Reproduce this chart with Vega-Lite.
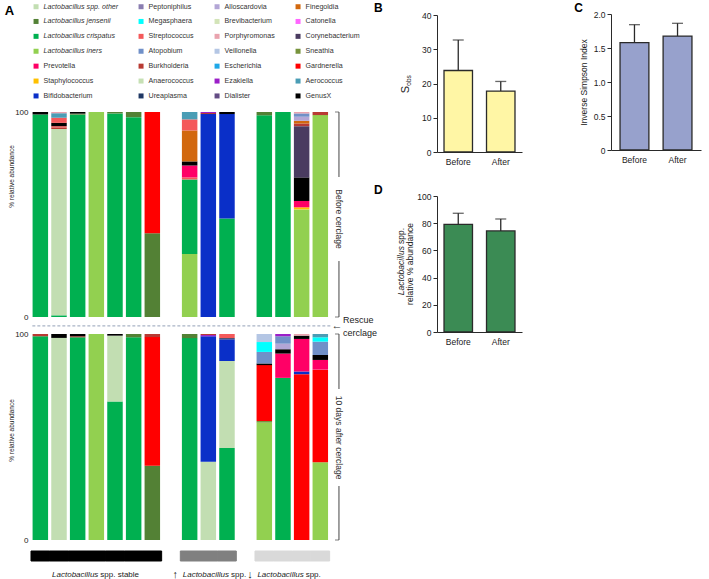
{
  "$schema": "https://vega.github.io/schema/vega-lite/v6.json",
  "width": 709, "height": 579,
  "autosize": {"type": "none"},
  "padding": 0,
  "background": "white",
  "config": {"font": "Liberation Sans", "view": {"stroke": null}, "axis": {"grid": false, "labelColor": "#222", "titleColor": "#222", "titleFontWeight": "normal"}},
  "datasets": {
    "comp": [
      {"time": "Before", "sample": "s1", "taxon": "Lactobacillus crispatus", "pct": 98.8},
      {"time": "Before", "sample": "s1", "taxon": "GenusX", "pct": 1.2},
      {"time": "Before", "sample": "s2", "taxon": "Lactobacillus crispatus", "pct": 0.8},
      {"time": "Before", "sample": "s2", "taxon": "Lactobacillus spp. other", "pct": 90.9},
      {"time": "Before", "sample": "s2", "taxon": "Burkholderia", "pct": 0.8},
      {"time": "Before", "sample": "s2", "taxon": "Streptococcus", "pct": 0.6},
      {"time": "Before", "sample": "s2", "taxon": "GenusX", "pct": 1.6},
      {"time": "Before", "sample": "s2", "taxon": "Streptococcus", "pct": 2.5},
      {"time": "Before", "sample": "s2", "taxon": "Aerococcus", "pct": 2.2},
      {"time": "Before", "sample": "s2", "taxon": "Porphyromonas", "pct": 0.6},
      {"time": "Before", "sample": "s3", "taxon": "Lactobacillus crispatus", "pct": 98.7},
      {"time": "Before", "sample": "s3", "taxon": "Lactobacillus jensenii", "pct": 0.5},
      {"time": "Before", "sample": "s3", "taxon": "GenusX", "pct": 0.8},
      {"time": "Before", "sample": "s4", "taxon": "Lactobacillus iners", "pct": 100},
      {"time": "Before", "sample": "s5", "taxon": "Lactobacillus crispatus", "pct": 99.3},
      {"time": "Before", "sample": "s5", "taxon": "Lactobacillus jensenii", "pct": 0.7},
      {"time": "Before", "sample": "s6", "taxon": "Lactobacillus crispatus", "pct": 97.5},
      {"time": "Before", "sample": "s6", "taxon": "Lactobacillus jensenii", "pct": 2.5},
      {"time": "Before", "sample": "s7", "taxon": "Lactobacillus jensenii", "pct": 40.8},
      {"time": "Before", "sample": "s7", "taxon": "Gardnerella", "pct": 59.2},
      {"time": "Before", "sample": "s8", "taxon": "Lactobacillus iners", "pct": 30.7},
      {"time": "Before", "sample": "s8", "taxon": "Lactobacillus crispatus", "pct": 36.4},
      {"time": "Before", "sample": "s8", "taxon": "Streptococcus", "pct": 1.0},
      {"time": "Before", "sample": "s8", "taxon": "Prevotella", "pct": 5.8},
      {"time": "Before", "sample": "s8", "taxon": "GenusX", "pct": 2.0},
      {"time": "Before", "sample": "s8", "taxon": "Finegoldia", "pct": 15.1},
      {"time": "Before", "sample": "s8", "taxon": "Streptococcus", "pct": 5.4},
      {"time": "Before", "sample": "s8", "taxon": "Aerococcus", "pct": 3.6},
      {"time": "Before", "sample": "s9", "taxon": "Bifidobacterium", "pct": 99.0},
      {"time": "Before", "sample": "s9", "taxon": "Burkholderia", "pct": 0.5},
      {"time": "Before", "sample": "s9", "taxon": "Ezakiella", "pct": 0.5},
      {"time": "Before", "sample": "s10", "taxon": "Lactobacillus crispatus", "pct": 48.0},
      {"time": "Before", "sample": "s10", "taxon": "Bifidobacterium", "pct": 51.0},
      {"time": "Before", "sample": "s10", "taxon": "GenusX", "pct": 1.0},
      {"time": "Before", "sample": "s11", "taxon": "Lactobacillus crispatus", "pct": 98.4},
      {"time": "Before", "sample": "s11", "taxon": "Lactobacillus jensenii", "pct": 1.6},
      {"time": "Before", "sample": "s12", "taxon": "Lactobacillus crispatus", "pct": 100},
      {"time": "Before", "sample": "s13", "taxon": "Lactobacillus iners", "pct": 52.5},
      {"time": "Before", "sample": "s13", "taxon": "Staphylococcus", "pct": 1.0},
      {"time": "Before", "sample": "s13", "taxon": "Prevotella", "pct": 3.1},
      {"time": "Before", "sample": "s13", "taxon": "GenusX", "pct": 11.5},
      {"time": "Before", "sample": "s13", "taxon": "Corynebacterium", "pct": 25.0},
      {"time": "Before", "sample": "s13", "taxon": "Burkholderia", "pct": 1.3},
      {"time": "Before", "sample": "s13", "taxon": "Finegoldia", "pct": 1.3},
      {"time": "Before", "sample": "s13", "taxon": "Alloscardovia", "pct": 2.0},
      {"time": "Before", "sample": "s13", "taxon": "Atopobium", "pct": 1.6},
      {"time": "Before", "sample": "s13", "taxon": "Porphyromonas", "pct": 0.7},
      {"time": "Before", "sample": "s14", "taxon": "Lactobacillus iners", "pct": 98.5},
      {"time": "Before", "sample": "s14", "taxon": "Burkholderia", "pct": 1.5},
      {"time": "After", "sample": "s1", "taxon": "Lactobacillus crispatus", "pct": 98.9},
      {"time": "After", "sample": "s1", "taxon": "Burkholderia", "pct": 1.1},
      {"time": "After", "sample": "s2", "taxon": "Lactobacillus spp. other", "pct": 98.1},
      {"time": "After", "sample": "s2", "taxon": "GenusX", "pct": 1.9},
      {"time": "After", "sample": "s3", "taxon": "Lactobacillus crispatus", "pct": 98.4},
      {"time": "After", "sample": "s3", "taxon": "Burkholderia", "pct": 0.5},
      {"time": "After", "sample": "s3", "taxon": "GenusX", "pct": 1.1},
      {"time": "After", "sample": "s4", "taxon": "Lactobacillus iners", "pct": 100},
      {"time": "After", "sample": "s5", "taxon": "Lactobacillus crispatus", "pct": 67.2},
      {"time": "After", "sample": "s5", "taxon": "Lactobacillus spp. other", "pct": 32.0},
      {"time": "After", "sample": "s5", "taxon": "GenusX", "pct": 0.8},
      {"time": "After", "sample": "s6", "taxon": "Lactobacillus crispatus", "pct": 98.4},
      {"time": "After", "sample": "s6", "taxon": "Lactobacillus jensenii", "pct": 1.6},
      {"time": "After", "sample": "s7", "taxon": "Lactobacillus jensenii", "pct": 36.0},
      {"time": "After", "sample": "s7", "taxon": "Gardnerella", "pct": 62.5},
      {"time": "After", "sample": "s7", "taxon": "Burkholderia", "pct": 1.5},
      {"time": "After", "sample": "s8", "taxon": "Lactobacillus crispatus", "pct": 98.0},
      {"time": "After", "sample": "s8", "taxon": "Lactobacillus jensenii", "pct": 2.0},
      {"time": "After", "sample": "s9", "taxon": "Lactobacillus spp. other", "pct": 38.0},
      {"time": "After", "sample": "s9", "taxon": "Bifidobacterium", "pct": 60.9},
      {"time": "After", "sample": "s9", "taxon": "Ezakiella", "pct": 0.6},
      {"time": "After", "sample": "s9", "taxon": "Burkholderia", "pct": 0.5},
      {"time": "After", "sample": "s10", "taxon": "Lactobacillus crispatus", "pct": 44.6},
      {"time": "After", "sample": "s10", "taxon": "Lactobacillus spp. other", "pct": 42.3},
      {"time": "After", "sample": "s10", "taxon": "Bifidobacterium", "pct": 10.5},
      {"time": "After", "sample": "s10", "taxon": "Ureaplasma", "pct": 0.6},
      {"time": "After", "sample": "s10", "taxon": "Streptococcus", "pct": 2.0},
      {"time": "After", "sample": "s11", "taxon": "Lactobacillus iners", "pct": 57.0},
      {"time": "After", "sample": "s11", "taxon": "Sneathia", "pct": 0.8},
      {"time": "After", "sample": "s11", "taxon": "Gardnerella", "pct": 27.1},
      {"time": "After", "sample": "s11", "taxon": "GenusX", "pct": 0.8},
      {"time": "After", "sample": "s11", "taxon": "Atopobium", "pct": 5.6},
      {"time": "After", "sample": "s11", "taxon": "Megasphaera", "pct": 4.8},
      {"time": "After", "sample": "s11", "taxon": "Veillonella", "pct": 3.9},
      {"time": "After", "sample": "s12", "taxon": "Lactobacillus crispatus", "pct": 78.7},
      {"time": "After", "sample": "s12", "taxon": "Prevotella", "pct": 11.8},
      {"time": "After", "sample": "s12", "taxon": "GenusX", "pct": 2.1},
      {"time": "After", "sample": "s12", "taxon": "Alloscardovia", "pct": 2.7},
      {"time": "After", "sample": "s12", "taxon": "Atopobium", "pct": 3.6},
      {"time": "After", "sample": "s12", "taxon": "Ezakiella", "pct": 1.1},
      {"time": "After", "sample": "s13", "taxon": "Gardnerella", "pct": 80.5},
      {"time": "After", "sample": "s13", "taxon": "Bifidobacterium", "pct": 1.3},
      {"time": "After", "sample": "s13", "taxon": "Prevotella", "pct": 15.8},
      {"time": "After", "sample": "s13", "taxon": "GenusX", "pct": 1.6},
      {"time": "After", "sample": "s13", "taxon": "Porphyromonas", "pct": 0.8},
      {"time": "After", "sample": "s14", "taxon": "Lactobacillus iners", "pct": 37.7},
      {"time": "After", "sample": "s14", "taxon": "Gardnerella", "pct": 45.0},
      {"time": "After", "sample": "s14", "taxon": "Prevotella", "pct": 4.7},
      {"time": "After", "sample": "s14", "taxon": "GenusX", "pct": 2.4},
      {"time": "After", "sample": "s14", "taxon": "Atopobium", "pct": 6.5},
      {"time": "After", "sample": "s14", "taxon": "Megasphaera", "pct": 2.1},
      {"time": "After", "sample": "s14", "taxon": "Aerococcus", "pct": 1.6}
    ],
    "grp": [
      {"sample": "s1", "group": "stable"}, {"sample": "s2", "group": "stable"}, {"sample": "s3", "group": "stable"},
      {"sample": "s4", "group": "stable"}, {"sample": "s5", "group": "stable"}, {"sample": "s6", "group": "stable"},
      {"sample": "s7", "group": "stable"}, {"sample": "s8", "group": "up"}, {"sample": "s9", "group": "up"},
      {"sample": "s10", "group": "up"}, {"sample": "s11", "group": "down"}, {"sample": "s12", "group": "down"},
      {"sample": "s13", "group": "down"}, {"sample": "s14", "group": "down"}
    ],
    "lab": [
      {"anchor": "s4", "arrow": "", "genus": "Lactobacillus", "rest": "spp. stable"},
      {"anchor": "s10", "arrow": "↑", "genus": "Lactobacillus", "rest": "spp."},
      {"anchor": "s13", "arrow": "↓", "genus": "Lactobacillus", "rest": "spp."}
    ],
    "sobs": [{"p": "Before", "m": 23.8, "u": 32.7}, {"p": "After", "m": 17.8, "u": 20.6}],
    "simp": [{"p": "Before", "m": 1.578, "u": 1.843}, {"p": "After", "m": 1.676, "u": 1.863}],
    "lact": [{"p": "Before", "m": 79.2, "u": 87.3}, {"p": "After", "m": 74.3, "u": 83.1}]
  },
  "layer": [
    {
      "layer": [
        {
          "data": {"name": "comp"},
          "transform": [{"filter": "datum.time === 'Before'"}, {"window": [{"op": "row_number", "as": "k"}], "groupby": ["sample"]}],
          "mark": {"type": "bar"},
          "encoding": {
            "x": {"field": "sample", "type": "nominal", "scale": {"domain": ["s1","s2","s3","s4","s5","s6","s7","g1","s8","s9","s10","g2","s11","s12","s13","s14","br"], "range": [31, 348.3], "paddingInner": 0.17, "paddingOuter": 0.085}, "axis": null},
            "y": {"field": "pct", "type": "quantitative", "stack": "zero", "scale": {"domain": [0, 100], "nice": false, "range": [317, 112]},
              "axis": {"orient": "left", "offset": -31, "values": [0, 100], "ticks": false, "domain": false, "labelFontSize": 8, "labelPadding": 3, "title": "% relative abundance", "titleFontSize": 6.5, "titleX": -20, "titleY": 176, "titleAngle": 270, "titleAlign": "center", "titleBaseline": "middle"}},
            "color": {"field": "taxon", "type": "nominal",
              "scale": {"domain": ["Lactobacillus spp. other","Lactobacillus jensenii","Lactobacillus crispatus","Lactobacillus iners","Prevotella","Staphylococcus","Bifidobacterium","Peptoniphilus","Megasphaera","Streptococcus","Atopobium","Burkholderia","Anaerococcus","Ureaplasma","Alloscardovia","Brevibacterium","Porphyromonas","Veillonella","Escherichia","Ezakiella","Dialister","Finegoldia","Catonella","Corynebacterium","Sneathia","Gardnerella","Aerococcus","GenusX"],
                "range": ["#C2DEB2","#538135","#00B050","#92D050","#FF0066","#FFC000","#0A2FC8","#8A7DB0","#00FFFF","#F4595A","#7090C8","#B83A33","#C6E0B4","#1F3864","#B3A6D6","#D3E4B8","#E9A3AE","#B4C6E4","#1FA8E8","#9B1FC8","#634C84","#D2680E","#FF66FF","#4A3B60","#77933C","#FF0000","#4A9DB5","#000000"]},
              "legend": {"orient": "none", "legendX": 32.5, "legendY": 3, "title": null, "columns": 4, "columnPadding": 19, "rowPadding": 6.9,
                "symbolType": "square", "symbolSize": 25, "symbolOpacity": 1, "symbolStrokeWidth": 0,
                "labelFontSize": 7.1, "labelColor": "#333", "labelOffset": 4, "labelLimit": 200, "padding": 0,
                "encode": {"labels": {"update": {"fontStyle": {"signal": "indexof(datum.label, 'Lactobacillus') === 0 ? 'italic' : 'normal'"}}}}}
            },
            "order": {"field": "k", "type": "quantitative"}
          }
        },
        {"data": {"values": [{}]}, "mark": {"type": "rule", "color": "#444", "strokeWidth": 1}, "encoding": {"x": {"datum": "br", "bandPosition": 0.5}, "y": {"datum": 100}, "y2": {"datum": 68.3}}},
        {"data": {"values": [{}]}, "mark": {"type": "rule", "color": "#444", "strokeWidth": 1}, "encoding": {"x": {"datum": "br", "bandPosition": 0.5}, "y": {"datum": 27.3}, "y2": {"datum": 0}}},
        {"data": {"values": [{}]}, "mark": {"type": "tick", "orient": "horizontal", "size": 4, "thickness": 1, "color": "#444", "xOffset": -2}, "encoding": {"x": {"datum": "br"}, "y": {"datum": 100}}},
        {"data": {"values": [{}]}, "mark": {"type": "tick", "orient": "horizontal", "size": 4, "thickness": 1, "color": "#444", "xOffset": -2}, "encoding": {"x": {"datum": "br"}, "y": {"datum": 0}}},
        {"data": {"values": [{}]}, "mark": {"type": "text", "text": "Before cerclage", "angle": 90, "fontSize": 8.5, "color": "#333", "align": "center", "baseline": "middle"}, "encoding": {"x": {"datum": "br", "bandPosition": 0.5}, "y": {"datum": 47.8}}},
        {"data": {"values": [{}]}, "mark": {"type": "text", "text": "A", "fontSize": 13, "fontWeight": "bold", "color": "#000", "align": "center", "baseline": "middle", "xOffset": -31, "yOffset": -101}, "encoding": {"x": {"datum": "s1", "bandPosition": 0.5}, "y": {"datum": 100}}}
      ]
    },
    {
      "layer": [
        {
          "data": {"name": "comp"},
          "transform": [{"filter": "datum.time === 'After'"}, {"window": [{"op": "row_number", "as": "k"}], "groupby": ["sample"]}],
          "mark": {"type": "bar"},
          "encoding": {
            "x": {"field": "sample", "type": "nominal", "scale": {"domain": ["s1","s2","s3","s4","s5","s6","s7","g1","s8","s9","s10","g2","s11","s12","s13","s14","br"], "range": [31, 348.3], "paddingInner": 0.17, "paddingOuter": 0.085}, "axis": null},
            "y": {"field": "pct", "type": "quantitative", "stack": "zero", "scale": {"domain": [0, 100], "nice": false, "range": [540, 334]},
              "axis": {"orient": "left", "offset": -31, "values": [0, 100], "ticks": false, "domain": false, "labelFontSize": 8, "labelPadding": 3, "title": "% relative abundance", "titleFontSize": 6.5, "titleX": -20, "titleY": 430, "titleAngle": 270, "titleAlign": "center", "titleBaseline": "middle"}},
            "color": {"field": "taxon", "type": "nominal",
              "scale": {"domain": ["Lactobacillus spp. other","Lactobacillus jensenii","Lactobacillus crispatus","Lactobacillus iners","Prevotella","Staphylococcus","Bifidobacterium","Peptoniphilus","Megasphaera","Streptococcus","Atopobium","Burkholderia","Anaerococcus","Ureaplasma","Alloscardovia","Brevibacterium","Porphyromonas","Veillonella","Escherichia","Ezakiella","Dialister","Finegoldia","Catonella","Corynebacterium","Sneathia","Gardnerella","Aerococcus","GenusX"],
                "range": ["#C2DEB2","#538135","#00B050","#92D050","#FF0066","#FFC000","#0A2FC8","#8A7DB0","#00FFFF","#F4595A","#7090C8","#B83A33","#C6E0B4","#1F3864","#B3A6D6","#D3E4B8","#E9A3AE","#B4C6E4","#1FA8E8","#9B1FC8","#634C84","#D2680E","#FF66FF","#4A3B60","#77933C","#FF0000","#4A9DB5","#000000"]},
              "legend": null},
            "order": {"field": "k", "type": "quantitative"}
          }
        },
        {"data": {"values": [{}]}, "mark": {"type": "rule", "color": "#A9B4C6", "strokeWidth": 1.2, "strokeDash": [3, 2], "xOffset": -8, "x2Offset": -8}, "encoding": {"x": {"datum": "s1", "bandPosition": 0.5}, "x2": {"datum": "br"}, "y": {"datum": 103.9}}},
        {"data": {"values": [{}]}, "mark": {"type": "text", "text": "←", "fontSize": 11, "color": "#333", "align": "center", "baseline": "middle", "xOffset": -2}, "encoding": {"x": {"datum": "br", "bandPosition": 0.5}, "y": {"datum": 103.9}}},
        {"data": {"values": [{}]}, "mark": {"type": "text", "text": "Rescue", "fontSize": 9, "color": "#222", "align": "left", "baseline": "middle", "xOffset": 4}, "encoding": {"x": {"datum": "br", "bandPosition": 0.5}, "y": {"datum": 106.8}}},
        {"data": {"values": [{}]}, "mark": {"type": "text", "text": "cerclage", "fontSize": 9, "color": "#222", "align": "left", "baseline": "middle", "xOffset": 4}, "encoding": {"x": {"datum": "br", "bandPosition": 0.5}, "y": {"datum": 100.5}}},
        {"data": {"values": [{}]}, "mark": {"type": "rule", "color": "#444", "strokeWidth": 1}, "encoding": {"x": {"datum": "br", "bandPosition": 0.5}, "y": {"datum": 100}, "y2": {"datum": 73.3}}},
        {"data": {"values": [{}]}, "mark": {"type": "rule", "color": "#444", "strokeWidth": 1}, "encoding": {"x": {"datum": "br", "bandPosition": 0.5}, "y": {"datum": 26.2}, "y2": {"datum": 0}}},
        {"data": {"values": [{}]}, "mark": {"type": "tick", "orient": "horizontal", "size": 4, "thickness": 1, "color": "#444", "xOffset": -2}, "encoding": {"x": {"datum": "br"}, "y": {"datum": 100}}},
        {"data": {"values": [{}]}, "mark": {"type": "tick", "orient": "horizontal", "size": 4, "thickness": 1, "color": "#444", "xOffset": -2}, "encoding": {"x": {"datum": "br"}, "y": {"datum": 0}}},
        {"data": {"values": [{}]}, "mark": {"type": "text", "text": "10 days after cerclage", "angle": 90, "fontSize": 8.5, "color": "#333", "align": "center", "baseline": "middle"}, "encoding": {"x": {"datum": "br", "bandPosition": 0.5}, "y": {"datum": 49.7}}}
      ]
    },
    {
      "layer": [
        {
          "data": {"name": "grp"},
          "mark": {"type": "bar", "strokeWidth": 1},
          "encoding": {
            "x": {"field": "sample", "type": "nominal", "scale": {"domain": ["s1","s2","s3","s4","s5","s6","s7","g1","s8","s9","s10","g2","s11","s12","s13","s14","br"], "range": [31, 348.3], "paddingInner": 0, "paddingOuter": 0}, "axis": null},
            "y": {"datum": 0, "scale": {"domain": [0, 1], "range": [561, 551]}, "axis": null},
            "y2": {"datum": 1},
            "color": {"field": "group", "type": "nominal", "scale": {"domain": ["stable", "up", "down"], "range": ["#000000", "#808080", "#D9D9D9"]}, "legend": null},
            "stroke": {"field": "group", "type": "nominal", "scale": {"domain": ["stable", "up", "down"], "range": ["#000000", "#808080", "#D9D9D9"]}, "legend": null}
          }
        },
        {"data": {"name": "lab"}, "mark": {"type": "text", "align": "right", "baseline": "middle", "dx": 2, "fontStyle": "italic", "fontSize": 8, "color": "#222"}, "encoding": {"x": {"field": "anchor", "type": "nominal"}, "y": {"datum": -1.4}, "text": {"field": "genus"}}},
        {"data": {"name": "lab"}, "mark": {"type": "text", "align": "left", "baseline": "middle", "dx": 4, "fontSize": 8, "color": "#222"}, "encoding": {"x": {"field": "anchor", "type": "nominal"}, "y": {"datum": -1.4}, "text": {"field": "rest"}}},
        {"data": {"name": "lab"}, "mark": {"type": "text", "align": "right", "baseline": "middle", "dx": -49, "fontSize": 11, "color": "#222"}, "encoding": {"x": {"field": "anchor", "type": "nominal"}, "y": {"datum": -1.4}, "text": {"field": "arrow"}}}
      ]
    },
    {
      "data": {"name": "sobs"},
      "encoding": {"x": {"field": "p", "type": "nominal", "sort": ["Before", "After"], "scale": {"domain": ["Before", "After"], "range": [437, 522], "paddingInner": 0.33, "paddingOuter": 0.165},
        "axis": {"orient": "bottom", "offset": -427, "title": null, "labelAngle": 0, "ticks": false, "domainColor": "#2a2a2a", "labelFontSize": 8.5, "labelPadding": 5}}},
      "layer": [
        {"mark": {"type": "bar", "fill": "#FFF6A5", "stroke": "#2a2a2a", "strokeWidth": 1.3}, "encoding": {"y": {"field": "m", "type": "quantitative", "title": null, "scale": {"domain": [0, 40], "nice": false, "range": [152, 15]}, "axis": {"orient": "left", "offset": -437, "values": [0, 10, 20, 30, 40], "domainColor": "#2a2a2a", "tickColor": "#2a2a2a", "tickSize": 4, "labelFontSize": 8.5, "labelPadding": 2}}}},
        {"mark": {"type": "rule", "color": "#2a2a2a", "strokeWidth": 1.3}, "encoding": {"y": {"field": "m", "type": "quantitative", "title": null}, "y2": {"field": "u"}}},
        {"mark": {"type": "tick", "orient": "horizontal", "color": "#2a2a2a", "thickness": 1.3, "size": 11}, "encoding": {"y": {"field": "u", "type": "quantitative", "title": null}}},
        {"data": {"values": [{}]}, "mark": {"type": "text", "text": "S", "angle": 270, "fontSize": 11, "color": "#222", "align": "center", "baseline": "middle", "xOffset": -52}, "encoding": {"x": {"datum": "Before"}, "y": {"datum": 18.2}}},
        {"data": {"values": [{}]}, "mark": {"type": "text", "text": "obs", "angle": 270, "fontSize": 6.5, "color": "#222", "align": "center", "baseline": "middle", "xOffset": -49}, "encoding": {"x": {"datum": "Before"}, "y": {"datum": 20.9}}},
        {"data": {"values": [{}]}, "mark": {"type": "text", "text": "B", "fontSize": 12, "fontWeight": "bold", "color": "#000", "align": "center", "baseline": "middle", "xOffset": -80, "yOffset": -7}, "encoding": {"x": {"datum": "Before"}, "y": {"datum": 40}}}
      ]
    },
    {
      "data": {"name": "simp"},
      "encoding": {"x": {"field": "p", "type": "nominal", "sort": ["Before", "After"], "scale": {"domain": ["Before", "After"], "range": [611, 701], "paddingInner": 0.33, "paddingOuter": 0.21},
        "axis": {"orient": "bottom", "offset": -429, "title": null, "labelAngle": 0, "ticks": false, "domainColor": "#2a2a2a", "labelFontSize": 8.5, "labelPadding": 5}}},
      "layer": [
        {"mark": {"type": "bar", "fill": "#97A1CC", "stroke": "#2a2a2a", "strokeWidth": 1.3}, "encoding": {"y": {"field": "m", "type": "quantitative", "title": "Inverse Simpson Index", "scale": {"domain": [0, 2], "nice": false, "range": [150, 14]},
          "axis": {"orient": "left", "offset": -611, "title": "Inverse Simpson Index", "values": [0, 0.5, 1, 1.5, 2], "labelExpr": "datum.value === 0 ? '0' : format(datum.value, '.1f')", "domainColor": "#2a2a2a", "tickColor": "#2a2a2a", "tickSize": 4, "labelFontSize": 8.5, "labelPadding": 2, "titleFontSize": 8.5, "titleX": -28, "titleY": 82, "titleAngle": 270, "titleAlign": "center", "titleBaseline": "middle"}}}},
        {"mark": {"type": "rule", "color": "#2a2a2a", "strokeWidth": 1.3}, "encoding": {"y": {"field": "m", "type": "quantitative", "title": "Inverse Simpson Index"}, "y2": {"field": "u"}}},
        {"mark": {"type": "tick", "orient": "horizontal", "color": "#2a2a2a", "thickness": 1.3, "size": 11}, "encoding": {"y": {"field": "u", "type": "quantitative", "title": "Inverse Simpson Index"}}},
        {"data": {"values": [{}]}, "mark": {"type": "text", "text": "C", "fontSize": 12, "fontWeight": "bold", "color": "#000", "align": "center", "baseline": "middle", "xOffset": -56, "yOffset": -6}, "encoding": {"x": {"datum": "Before"}, "y": {"datum": 2}}}
      ]
    },
    {
      "data": {"name": "lact"},
      "encoding": {"x": {"field": "p", "type": "nominal", "sort": ["Before", "After"], "scale": {"domain": ["Before", "After"], "range": [437, 522], "paddingInner": 0.33, "paddingOuter": 0.165},
        "axis": {"orient": "bottom", "offset": -247, "title": null, "labelAngle": 0, "ticks": false, "domainColor": "#2a2a2a", "labelFontSize": 8.5, "labelPadding": 5}}},
      "layer": [
        {"mark": {"type": "bar", "fill": "#3B8B54", "stroke": "#2a2a2a", "strokeWidth": 1.3}, "encoding": {"y": {"field": "m", "type": "quantitative", "title": null, "scale": {"domain": [0, 100], "nice": false, "range": [332, 196]}, "axis": {"orient": "left", "offset": -437, "values": [0, 20, 40, 60, 80, 100], "domainColor": "#2a2a2a", "tickColor": "#2a2a2a", "tickSize": 4, "labelFontSize": 8.5, "labelPadding": 2}}}},
        {"mark": {"type": "rule", "color": "#2a2a2a", "strokeWidth": 1.3}, "encoding": {"y": {"field": "m", "type": "quantitative", "title": null}, "y2": {"field": "u"}}},
        {"mark": {"type": "tick", "orient": "horizontal", "color": "#2a2a2a", "thickness": 1.3, "size": 11}, "encoding": {"y": {"field": "u", "type": "quantitative", "title": null}}},
        {"data": {"values": [{}]}, "mark": {"type": "text", "text": "Lactobacillus", "fontStyle": "italic", "angle": 270, "fontSize": 8.5, "color": "#222", "align": "right", "baseline": "middle", "xOffset": -57.5}, "encoding": {"x": {"datum": "Before"}, "y": {"datum": 63.2}}},
        {"data": {"values": [{}]}, "mark": {"type": "text", "text": "spp.", "angle": 270, "fontSize": 8.5, "color": "#222", "align": "left", "baseline": "middle", "dx": 2, "xOffset": -57.5}, "encoding": {"x": {"datum": "Before"}, "y": {"datum": 63.2}}},
        {"data": {"values": [{}]}, "mark": {"type": "text", "text": "relative % abundance", "angle": 270, "fontSize": 8.5, "color": "#222", "align": "center", "baseline": "middle", "xOffset": -48.5}, "encoding": {"x": {"datum": "Before"}, "y": {"datum": 50}}},
        {"data": {"values": [{}]}, "mark": {"type": "text", "text": "D", "fontSize": 12, "fontWeight": "bold", "color": "#000", "align": "center", "baseline": "middle", "xOffset": -80, "yOffset": -6}, "encoding": {"x": {"datum": "Before"}, "y": {"datum": 100}}}
      ]
    }
  ],
  "resolve": {"scale": {"x": "independent", "y": "independent", "color": "independent", "stroke": "independent"}, "axis": {"x": "independent", "y": "independent"}, "legend": {"color": "independent", "stroke": "independent"}}
}
